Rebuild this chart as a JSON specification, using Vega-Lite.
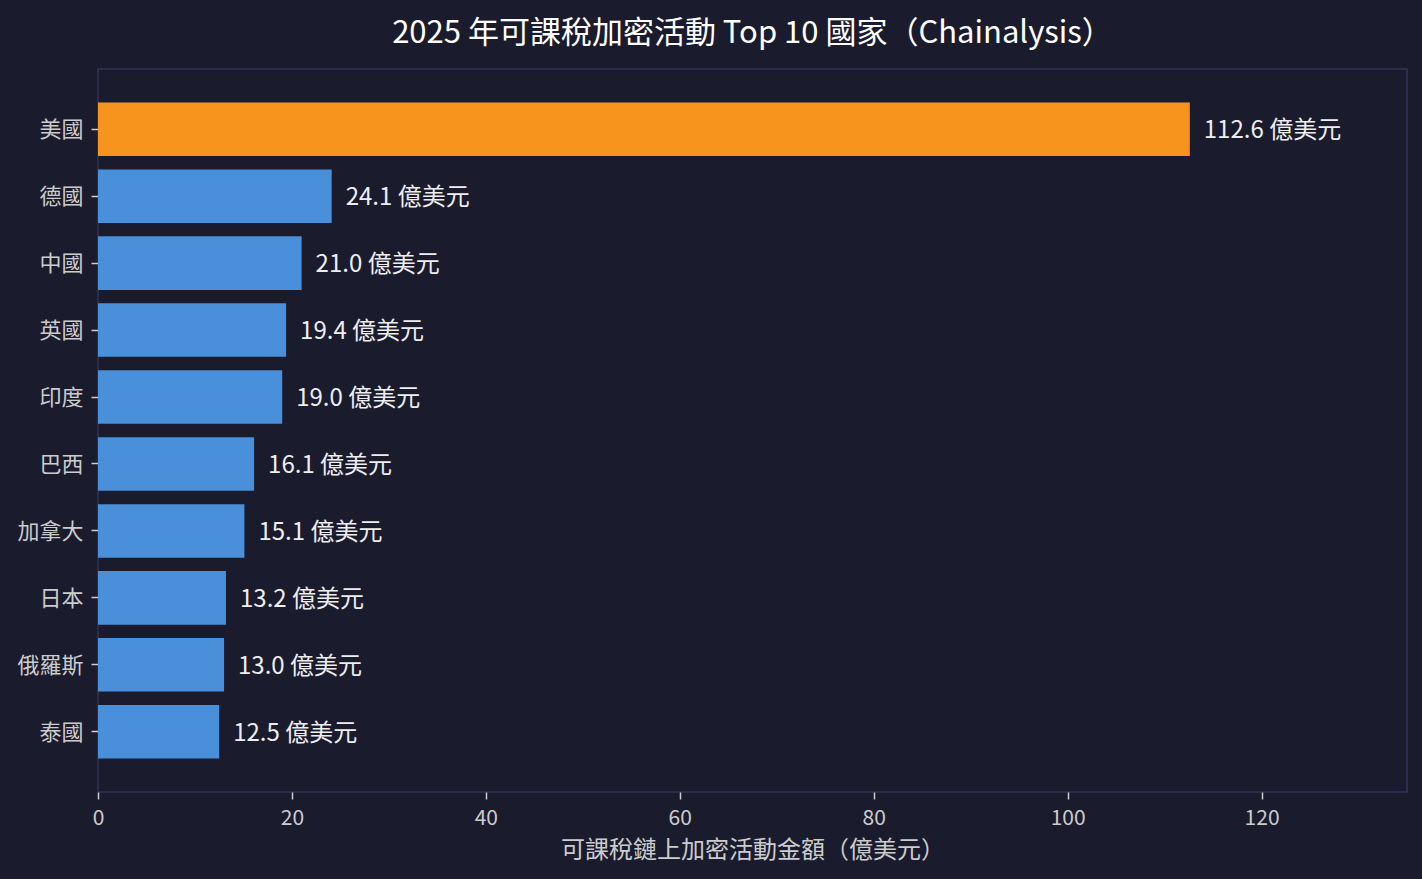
{
  "$schema": "https://vega.github.io/schema/vega-lite/v6.json",
  "width": 1309,
  "height": 723,
  "autosize": "none",
  "padding": {"left": 98, "top": 69, "right": 15, "bottom": 87},
  "background": "#1b1b2e",
  "config": {
    "font": "Noto Sans CJK TC",
    "view": {"stroke": "#33335a", "strokeWidth": 1.5, "fill": "#1b1b2e"}
  },
  "title": {
    "text": "2025 年可課稅加密活動 Top 10 國家（Chainalysis）",
    "color": "#ffffff",
    "fontSize": 31,
    "fontWeight": "normal",
    "font": "Noto Sans CJK TC",
    "anchor": "middle",
    "offset": 19
  },
  "data": {
    "values": [
      {"country": "美國", "value": 112.6},
      {"country": "德國", "value": 24.1},
      {"country": "中國", "value": 21.0},
      {"country": "英國", "value": 19.4},
      {"country": "印度", "value": 19.0},
      {"country": "巴西", "value": 16.1},
      {"country": "加拿大", "value": 15.1},
      {"country": "日本", "value": 13.2},
      {"country": "俄羅斯", "value": 13.0},
      {"country": "泰國", "value": 12.5}
    ]
  },
  "transform": [
    {"calculate": "format(datum.value, '.1f') + ' 億美元'", "as": "label"}
  ],
  "encoding": {
    "y": {
      "field": "country",
      "type": "nominal",
      "sort": null,
      "scale": {"paddingInner": 0.2, "paddingOuter": 0.5},
      "axis": {
        "title": null,
        "domain": false,
        "tickColor": "#cccccc",
        "tickSize": 7,
        "tickWidth": 1.5,
        "labelColor": "#cccccc",
        "labelFontSize": 22,
        "labelPadding": 8,
        "labelOffset": 1,
        "labelFont": "Noto Sans CJK TC"
      }
    },
    "x": {
      "field": "value",
      "type": "quantitative",
      "scale": {"domain": [0, 135], "nice": false},
      "axis": {
        "title": "可課稅鏈上加密活動金額（億美元）",
        "titleColor": "#cccccc",
        "titleFontSize": 24,
        "titleFontWeight": "normal",
        "titleFont": "Noto Sans CJK TC",
        "titlePadding": 10,
        "values": [0, 20, 40, 60, 80, 100, 120],
        "grid": false,
        "domain": false,
        "labelFlush": false,
        "tickColor": "#cccccc",
        "tickSize": 7,
        "tickWidth": 1.5,
        "labelColor": "#cccccc",
        "labelFontSize": 21,
        "labelPadding": 8,
        "labelFont": "Noto Sans CJK TC"
      }
    }
  },
  "layer": [
    {
      "mark": {"type": "bar"},
      "encoding": {
        "color": {
          "condition": {"test": "datum.country === '美國'", "value": "#f7941d"},
          "value": "#4a8fd9"
        }
      }
    },
    {
      "mark": {"type": "text", "align": "left", "baseline": "middle", "dx": 14, "dy": 2, "fontSize": 24, "color": "#eeeeee", "font": "Noto Sans CJK TC"},
      "encoding": {
        "text": {"field": "label"}
      }
    }
  ]
}
